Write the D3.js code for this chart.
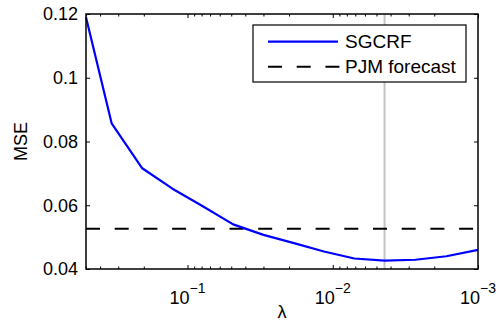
<!DOCTYPE html>
<html>
<head>
<meta charset="utf-8">
<script src="https://cdn.jsdelivr.net/npm/d3@7/dist/d3.min.js"></script>
<style>
  html, body { margin: 0; padding: 0; background: #fff; }
  svg { display: block; }
  text { font-family: "Liberation Sans", Arial, Helvetica, sans-serif; fill: #000; }
</style>
</head>
<body>
<svg id="chart" width="498" height="329"></svg>
<script>
// ---- data ----
const lambdas = [0.5, 0.333, 0.205, 0.127, 0.0785, 0.0485, 0.030, 0.0185, 0.0115, 0.0071, 0.0044, 0.0027, 0.00165, 0.001];
const mseSGCRF = [0.119, 0.0857, 0.0716, 0.0652, 0.0597, 0.0540, 0.0507, 0.0481, 0.0455, 0.0433, 0.0426, 0.0429, 0.0440, 0.0460];
const pjmForecast = 0.0526;
const selectedLambda = 0.0044;
const yTicks = [0.04, 0.06, 0.08, 0.1, 0.12];
const yTickLabels = ["0.04", "0.06", "0.08", "0.1", "0.12"];
const xMajorTicks = [0.1, 0.01, 0.001];
const xMajorExponents = ["\u22121", "\u22122", "\u22123"];
const xMinorTicks = [0.5, 0.4, 0.3, 0.2, 0.09, 0.08, 0.07, 0.06, 0.05, 0.04, 0.03, 0.02,
                     0.009, 0.008, 0.007, 0.006, 0.005, 0.004, 0.003, 0.002];
const legendLabels = ["SGCRF", "PJM forecast"];

// ---- layout ----
const L = 86, R = 478, T = 14, B = 269;
const svg = d3.select("#chart");
const x = d3.scaleLog().domain([0.5, 0.001]).range([L, R]);
const y = d3.scaleLinear().domain([0.04, 0.12]).range([B, T]);

// selected lambda (gray vertical line)
svg.append("line")
  .attr("x1", x(selectedLambda)).attr("x2", x(selectedLambda))
  .attr("y1", T).attr("y2", B)
  .attr("stroke", "#c4c4c4").attr("stroke-width", 2);

// PJM dashed line
svg.append("line")
  .attr("x1", L).attr("x2", R)
  .attr("y1", y(pjmForecast)).attr("y2", y(pjmForecast))
  .attr("stroke", "#000").attr("stroke-width", 2)
  .attr("stroke-dasharray", "14,14.7");

// SGCRF line
const line = d3.line().x((d, i) => x(lambdas[i])).y(d => y(d));
svg.append("path")
  .datum(mseSGCRF)
  .attr("d", line)
  .attr("fill", "none")
  .attr("stroke", "#0000ff")
  .attr("stroke-width", 2.2)
  .attr("stroke-linejoin", "round");

// axes (inward ticks)
function styleAxis(g) {
  g.select(".domain").remove();
  g.selectAll("line").attr("stroke", "#000").attr("stroke-width", 1);
  g.selectAll("text").attr("font-family", "Liberation Sans, Arial, sans-serif").attr("font-size", 18).attr("fill", "#000");
  g.attr("font-family", null);
}
svg.append("g").attr("transform", `translate(0,${B})`)
  .call(d3.axisBottom(x).tickValues(xMajorTicks).tickSize(-4).tickFormat("")).call(styleAxis);
svg.append("g").attr("transform", `translate(0,${B})`)
  .call(d3.axisBottom(x).tickValues(xMinorTicks).tickSize(-2.5).tickFormat("")).call(styleAxis);
svg.append("g").attr("transform", `translate(0,${T})`)
  .call(d3.axisTop(x).tickValues(xMajorTicks).tickSize(-4).tickFormat("")).call(styleAxis);
svg.append("g").attr("transform", `translate(0,${T})`)
  .call(d3.axisTop(x).tickValues(xMinorTicks).tickSize(-2.5).tickFormat("")).call(styleAxis);
svg.append("g").attr("transform", `translate(${L},0)`)
  .call(d3.axisLeft(y).tickValues(yTicks).tickSize(-4).tickPadding(8)
    .tickFormat((d, i) => yTickLabels[i])).call(styleAxis);
svg.append("g").attr("transform", `translate(${R},0)`)
  .call(d3.axisRight(y).tickValues(yTicks).tickSize(-4).tickFormat("")).call(styleAxis);

// x tick labels with superscripts
const xl = svg.append("g");
xMajorTicks.forEach((v, i) => {
  const t = xl.append("text")
    .attr("x", x(v)).attr("y", 304)
    .attr("text-anchor", "middle")
    .attr("font-size", 18);
  t.append("tspan").text("10");
  t.append("tspan").attr("dy", -11).attr("font-size", 14).text(xMajorExponents[i]);
});

// frame
svg.append("rect")
  .attr("x", L).attr("y", T).attr("width", R - L).attr("height", B - T)
  .attr("fill", "none").attr("stroke", "#000").attr("stroke-width", 1.5);

// axis labels
svg.append("text")
  .attr("transform", `translate(27,${(T + B) / 2}) rotate(-90)`)
  .attr("text-anchor", "middle").attr("font-size", 18).text("MSE");
svg.append("text")
  .attr("x", (L + R) / 2).attr("y", 318)
  .attr("text-anchor", "middle").attr("font-size", 18).text("\u03bb");

// legend
const lg = svg.append("g");
lg.append("rect")
  .attr("x", 253).attr("y", 25).attr("width", 213).attr("height", 57)
  .attr("fill", "#fff").attr("stroke", "#000").attr("stroke-width", 1.2);
lg.append("line").attr("x1", 268).attr("x2", 338).attr("y1", 41.7).attr("y2", 41.7)
  .attr("stroke", "#0000ff").attr("stroke-width", 2.2);
lg.append("line").attr("x1", 268).attr("x2", 340).attr("y1", 66.7).attr("y2", 66.7)
  .attr("stroke", "#000").attr("stroke-width", 2).attr("stroke-dasharray", "14,14.7");
lg.append("text").attr("x", 345).attr("y", 48).attr("font-size", 19).text(legendLabels[0]);
lg.append("text").attr("x", 345).attr("y", 73).attr("font-size", 19).text(legendLabels[1]);
</script>
</body>
</html>
